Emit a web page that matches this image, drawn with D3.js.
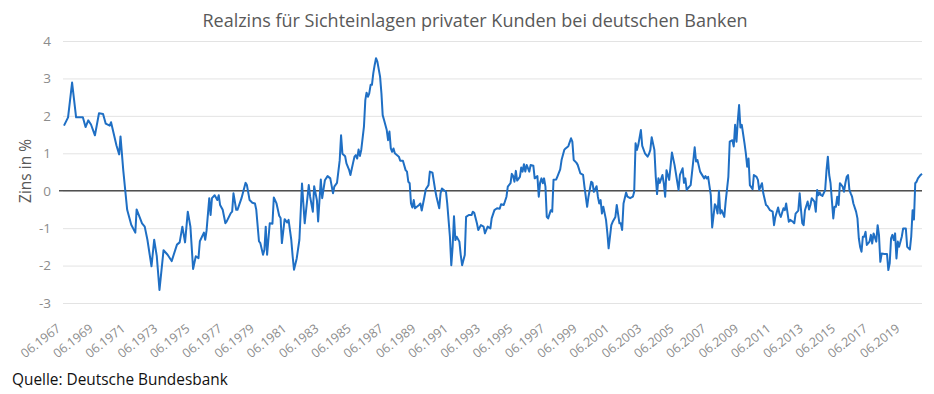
<!DOCTYPE html>
<html>
<head>
<meta charset="utf-8">
<script src="https://cdn.jsdelivr.net/npm/d3@7"></script>
<style>
  body { margin: 0; background: #fff; }
  svg { display: block; }
</style>
</head>
<body>
<div class="chart"><svg></svg></div>
<script>
// months counted from 06.1967, values in percent
const startMonth = "06.1967";

const monthsA = [0,3,6,9,14,16,18,20,23,26, 29,31,34,35,39,41,42,44,47,50,
  53,54,58,60,62,65,67,69,71,74, 77,80,84,86,88,90,92,94,96,98,
  100,101,104,105,106,108,109,110,112,114, 115,116,118,120];
const valuesA = [1.74,1.96,2.89,1.96,1.96,1.70,1.88,1.77,1.48,2.07,
  2.05,1.79,1.74,1.83,1.21,0.97,1.45,0.55,-0.51,-0.91,
  -1.12,-0.50,-0.87,-0.96,-1.31,-2.02,-1.31,-1.75,-2.65,-1.59,
  -1.71,-1.88,-1.44,-1.38,-0.96,-1.38,-0.56,-0.96,-2.09,-1.75,
  -1.80,-1.35,-1.12,-1.31,-1.06,-0.20,-0.65,-0.20,-0.12,-0.25,
  -0.12,-0.38,-0.51,-0.87];

const monthsB = [121,124,125,126,128,129,132,135,136,138, 140,142,143,145,146,148,149,150,151,153,
  155,156,158,160,161,162,164,166,167,169, 170,171,173,175,177,179,182,183,185,186,
  188,189,191,192,194,196,198,200,201,203, 205,206,207,209,210,212,213,215,216,217,
  218,219,220,221,223,224,225,226,227,228, 229,230,231,232,233,235,236,237,238,240,
  241,242,243,244,245,246,249,250,252,254, 255,256,257,258,259,260,261,264,265,266,
  268,269,271,272,274,276,277,279,280];
const valuesB = [-0.82,-0.60,-0.56,-0.07,-0.51,-0.51,-0.20,0.21,0.15,-0.25,
  -0.32,-0.34,-0.51,-1.35,-1.40,-1.71,-1.58,-0.96,-1.71,-0.87,
  -0.88,-0.18,-0.34,-0.67,-0.73,-1.40,-0.76,-0.85,-0.78,-1.31,
  -1.75,-2.11,-1.81,-1.31,0.19,-0.87,0.15,-0.16,-0.56,0.12,
  -0.25,-0.82,0.30,-0.20,0.28,0.39,0.33,-0.07,0.11,0.21,
  0.81,1.48,0.99,0.92,0.73,0.55,0.42,0.75,0.91,0.95,
  0.86,1.10,0.93,1.09,1.71,2.42,2.62,2.51,2.60,2.83,
  2.83,3.14,3.36,3.54,3.45,3.05,2.60,2.02,1.89,1.62,
  1.35,1.58,1.13,1.04,1.13,1.00,0.91,0.80,0.80,0.55,
  0.51,0.24,0.20,-0.34,-0.45,-0.25,-0.47,-0.38,-0.34,-0.53,
  -0.16,0.04,0.15,0.51,0.48,0.02,-0.16,-0.47,-0.07];

const monthsC = [281,283,284,285,287,288,289,290,291,292, 294,295,296,298,299,301,303,304,305,307,
  308,310,312,313,315,317,318,320,322,324, 325,327,329,330,332,333,334,335,336,337,
  339,340,341,342,343,344,346,347,349,350, 352,353,354,355,356,357,358,359,360,362,
  363,364,366,367,369,370,372,373,375,377, 378,379,381,382,384,386,387,389,390,392,
  393,394,396,397,398,399,400,401,403,404, 405,407,408,410,411,413,414,415,416,418,
  419,421,423,424,425,426,427,429,430,432, 434,435,436,437,439,440,441,442,443,445,
  446,447,448,450,452,454];
const valuesC = [0.06,0.00,-0.03,-0.34,-1.23,-1.99,-1.50,-0.68,-1.32,-1.23,
  -1.36,-1.72,-1.99,-1.72,-0.70,-0.65,-0.65,-0.56,-0.59,-0.87,
  -1.05,-0.92,-0.96,-1.14,-0.96,-1.01,-0.74,-0.52,-0.47,-0.48,
  -0.36,-0.38,-0.16,0.11,0.20,0.45,0.39,0.24,0.53,0.27,
  0.37,0.62,0.51,0.71,0.51,0.69,0.51,0.69,0.67,0.33,
  0.39,-0.16,0.21,0.33,0.20,0.33,0.11,-0.70,-0.74,-0.52,
  -0.56,0.29,0.30,0.39,0.57,0.82,1.09,1.13,1.19,1.40,
  1.31,0.82,0.75,0.69,0.46,0.42,0.11,-0.43,-0.16,0.24,
  0.21,-0.03,0.12,-0.16,-0.34,-0.25,-0.61,-0.43,-0.78,-1.14,
  -1.54,-0.92,-0.83,-0.70,-0.38,-0.87,-0.87,-1.05,-0.34,-0.05,
  -0.16,-0.20,-0.16,-0.03,1.27,1.09,1.22,1.62,1.20,1.00,
  0.91,0.98,1.09,1.43,1.09,0.37,-0.09,0.33,0.21,0.42,
  0.20,-0.16,0.55,0.29,1.02,0.69];

const monthsD = [456,457,458,460,461,462,463,465,466,468, 469,470,471,473,474,476,477,478,479,481,
  482,484,485,486,487,488,489,491,492,494, 495,497,498,499,500,501,502,503,504,506,
  507,508,509,510,512,513,515,516,517,519, 520,522,523,525,527,528,529,531,532,533,
  535,536,537,539,540,542,543,544,546,547, 548,549,550,551,553,554,555,556,558,559,
  560,561,562,563,564,566,567,568,569,570, 572,573,574,575,576,577,579,580,581,582,
  583,584,585,586,587,589,590,591,592,593, 594,595,596,597,599,600,601,602,604,605,
  606,607,608,610,612,613,614,615,616,617, 618,619,620,621,623,624,626,627,629,630,
  631,632,633,634,635,637,638];
const valuesD = [0.24,0.02,0.42,0.60,0.21,0.33,0.02,0.11,0.15,0.82,
  1.16,0.78,0.82,0.51,0.45,0.33,0.39,0.33,0.37,-0.12,
  -0.98,-0.36,-0.43,-0.61,0.00,-0.61,-0.52,-0.70,-0.29,0.37,
  1.31,1.35,1.18,1.76,1.31,1.84,2.29,1.69,1.76,1.27,
  1.00,0.64,0.86,0.15,0.04,0.42,0.37,0.29,0.02,0.20,
  -0.07,-0.38,-0.41,-0.52,-0.56,-0.92,-0.70,-0.45,-0.61,-0.70,
  -0.47,-0.52,-0.34,-0.83,-0.78,-0.83,-0.87,-0.61,-0.53,-0.07,
  -0.52,-0.87,-0.92,-0.52,-0.29,-0.50,-0.38,-0.20,-0.29,-0.56,
  0.02,-0.12,-0.05,-0.12,-0.14,0.02,0.55,0.91,0.42,0.20,
  -0.74,-0.43,-0.43,-0.16,-0.38,0.20,0.11,-0.03,0.20,0.37,
  0.42,0.02,-0.07,-0.16,-0.34,-0.56,-0.74,-1.27,-1.50,-1.63,
  -1.23,-1.23,-1.10,-1.45,-1.36,-1.18,-1.41,-1.14,-1.36,-0.92,
  -1.18,-1.90,-1.68,-1.69,-1.69,-2.12,-1.94,-1.27,-1.18,-1.32,
  -1.14,-1.81,-1.36,-1.50,-1.23,-1.01,-1.01,-1.50,-1.57,-1.23,
  -0.52,-0.77,0.20,0.24,0.33,0.42,0.45];

const tickLabels = ["06.1967","06.1969","06.1971","06.1973","06.1975","06.1977","06.1979",
  "06.1981","06.1983","06.1985","06.1987","06.1989","06.1991","06.1993","06.1995",
  "06.1997","06.1999","06.2001","06.2003","06.2005","06.2007","06.2009","06.2011",
  "06.2013","06.2015","06.2017","06.2019"];
const yTicks = [4, 3, 2, 1, 0, -1, -2, -3];

const titleText = "Realzins für Sichteinlagen privater Kunden bei deutschen Banken";
const yLabel = "Zins in %";
const sourceText = "Quelle: Deutsche Bundesbank";

const width = 934, height = 394;
const margin = {top: 41, right: 12, bottom: 91, left: 64};

const parseMonth = d3.timeParse("%m.%Y");
const start = parseMonth(startMonth);

let data = [];
[[monthsA, valuesA], [monthsB, valuesB], [monthsC, valuesC], [monthsD, valuesD]].forEach(function(seg){
    seg[0].forEach(function(m, i){
        data.push({date: d3.timeMonth.offset(start, m), value: seg[1][i]});
    });
});

let svg = d3.select(".chart svg")
    .attr("width", width)
    .attr("height", height);

let x = d3.scaleTime()
    .domain(d3.extent(data, d => d.date))
    .range([margin.left, width - margin.right]);

let y = d3.scaleLinear()
    .domain([-3, 4])
    .range([height - margin.bottom, margin.top]);

// title
svg.append("text")
    .text(titleText)
    .attr("x", 475)
    .attr("y", 27)
    .style("font-family", "'Open Sans', sans-serif")
    .style("font-size", "18px")
    .style("fill", "#595959")
    .style("text-anchor", "middle");

// y axis with grid lines
let yAxis = svg.append("g")
    .attr("transform", "translate(" + (margin.left - 1) + ",0)")
    .call(d3.axisLeft(y).tickValues(yTicks).tickFormat(d => String(d))
        .tickSize(-(width - margin.right - margin.left + 1)).tickPadding(12));
yAxis.select(".domain").remove();
yAxis.selectAll("line")
    .style("stroke", "#e3e3e3")
    .style("stroke-width", 1);
yAxis.selectAll("text")
    .style("font-family", "'Open Sans', sans-serif")
    .style("font-size", "13.5px")
    .style("fill", "#8c8c8c");

// zero line
svg.append("line")
    .attr("x1", margin.left - 5)
    .attr("x2", width - margin.right)
    .attr("y1", y(0))
    .attr("y2", y(0))
    .style("stroke", "#505050")
    .style("stroke-width", 1.5);

// x axis labels
let xAxis = svg.append("g")
    .attr("transform", "translate(0," + (height - margin.bottom) + ")")
    .call(d3.axisBottom(x).tickValues(tickLabels.map(parseMonth)).tickFormat(d3.timeFormat("%m.%Y")).tickSize(0));
xAxis.select(".domain").remove();
xAxis.selectAll("text")
    .attr("x", 0)
    .attr("y", 0)
    .attr("dy", 0)
    .attr("transform", "translate(-3,27) rotate(-38)")
    .style("text-anchor", "end")
    .style("font-family", "'Open Sans', sans-serif")
    .style("font-size", "12.5px")
    .style("fill", "#8c8c8c");

// y label
svg.append("text")
    .text(yLabel)
    .attr("transform", "translate(31,171) rotate(-90)")
    .style("font-family", "'Open Sans', sans-serif")
    .style("font-size", "15.5px")
    .style("fill", "#595959")
    .style("text-anchor", "middle");

// line
let line = d3.line()
    .x(d => x(d.date))
    .y(d => y(d.value));

svg.append("path")
    .datum(data)
    .attr("d", line)
    .style("fill", "none")
    .style("stroke", "#1f6fc4")
    .style("stroke-width", 2)
    .style("stroke-linejoin", "round");

// source
svg.append("text")
    .text(sourceText)
    .attr("x", 12)
    .attr("y", 385)
    .style("font-family", "'Open Sans', sans-serif")
    .style("font-size", "15.4px")
    .style("fill", "#111");
</script>
</body>
</html>
